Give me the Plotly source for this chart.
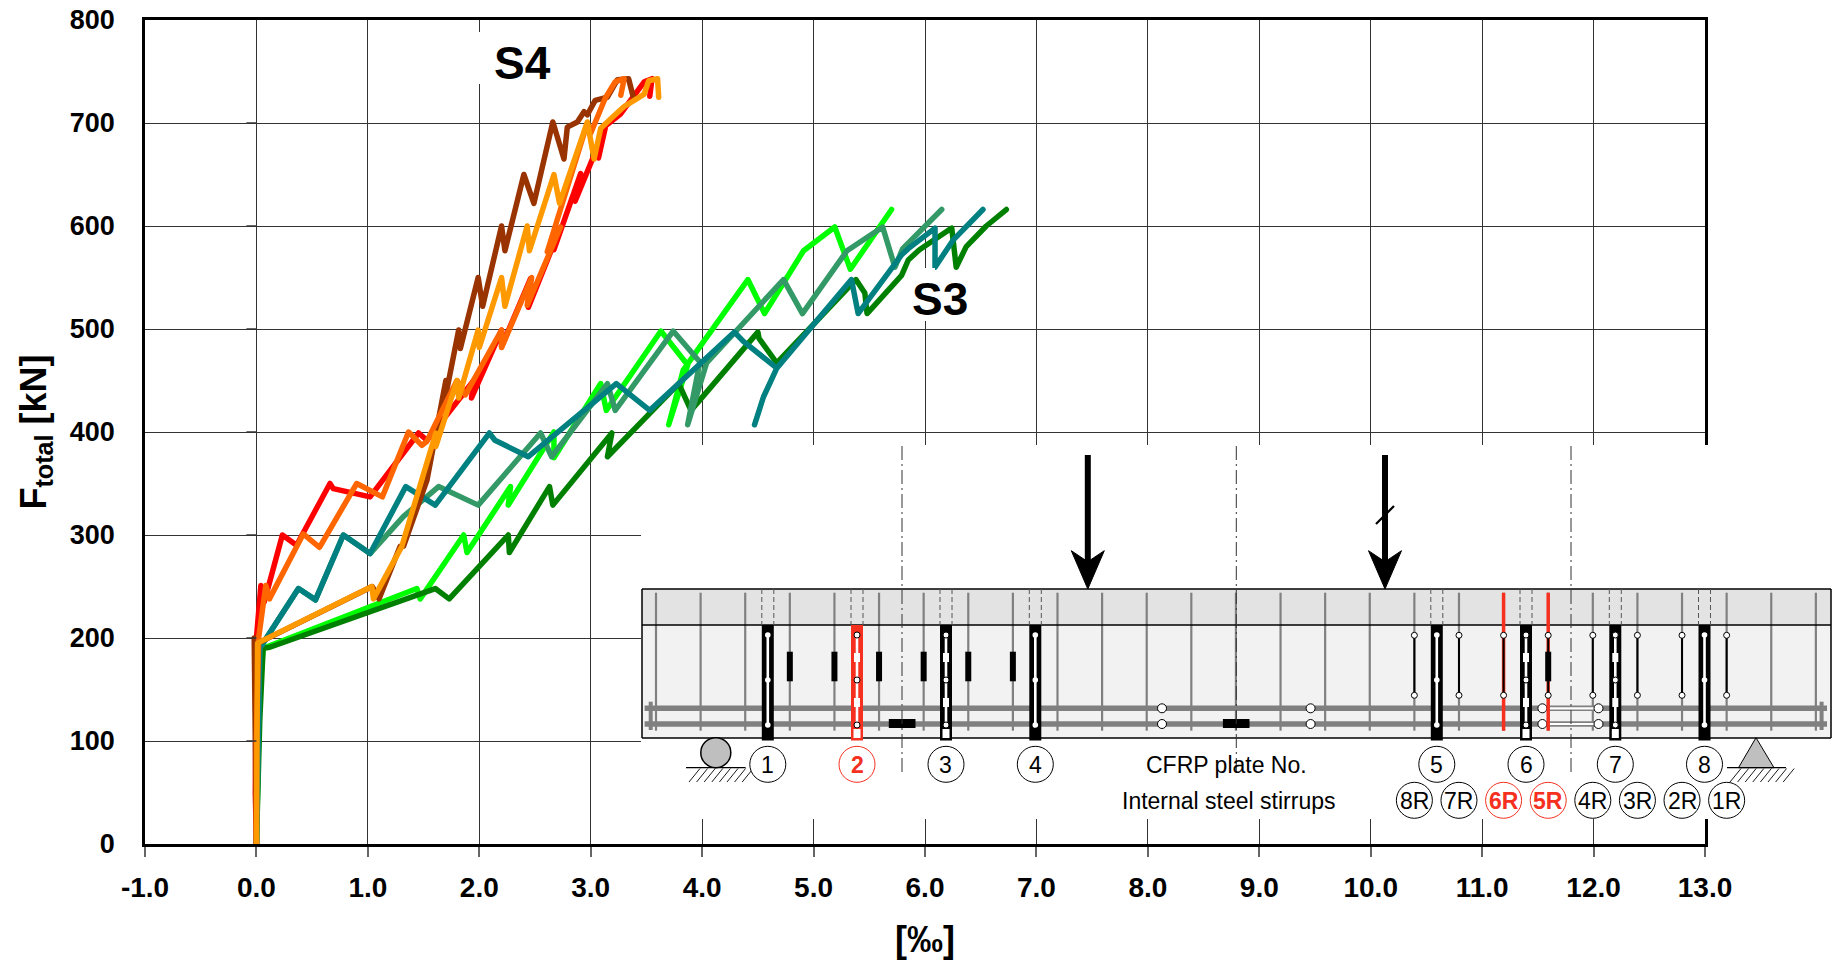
import plotly.graph_objects as go

# ---- data: strain [permille], F_total [kN] ----
red_x = [0,-0.01,0.0,0.04,0.07,0.233,0.36,0.66,0.69,1.02,1.455,1.53,1.95,1.93,2.2,2.2,2.46,2.44,2.73,2.67,2.91,2.86,3.13,3.07,3.13,3.27,3.48,3.55,3.53]
red_y = [0,50,200,251,235,300,290,350,345,337,399,392,450,433,499,483,549,521,599,577,651,624,695,666,697,709,740,743,726]

dorange_x = [0,0.0,0.02,0.084,0.117,0.42,0.566,0.90,1.13,1.365,1.485,1.53,1.80,1.875,2.2,2.2,2.47,2.43,2.73,2.61,2.97,3.0,3.13,3.22,3.30,3.27]
dorange_y = [0,100,200,251,238,301,288,350,337,400,387,391,450,436,499,482,550,523,599,575,700,690,724,740,743,727]

brown_x = [0,-0.02,-0.02,0.05,1.04,1.10,1.29,1.32,1.53,1.70,1.68,1.815,1.83,1.99,2.03,2.20,2.23,2.40,2.49,2.66,2.76,2.79,2.88,2.94,2.97,3.04,3.15,3.24,3.34,3.38]
brown_y = [0,150,200,197,250,238,289,289,353,450,425,499,481,550,522,600,576,650,622,701,665,696,701,711,708,722,725,742,743,726]

amber_x = [0,0.003,0.01,1.036,1.05,1.305,1.61,1.61,1.80,1.815,1.99,2.0,2.2,2.23,2.43,2.45,2.67,2.72,2.97,3.03,3.09,3.19,3.30,3.39,3.48,3.52,3.60,3.61]
amber_y = [0,50,195,250,238,289,399,386,450,433,499,482,550,522,600,576,650,622,701,665,695,705,716,722,728,741,743,725]

lime_x = [0,0.027,0.06,1.44,1.47,1.86,1.89,2.28,2.26,2.67,2.67,3.09,3.14,3.63,3.87,3.70,3.83,4.41,4.56,4.91,5.19,5.33,5.70]
lime_y = [0,143,190,248,238,300,283,347,329,400,375,447,421,498,465,407,460,548,515,576,599,558,616]

dgreen_x = [0,0.03,0.06,0.12,1.605,1.73,2.26,2.27,2.63,2.66,3.19,3.15,3.79,3.90,4.50,4.51,4.67,5.38,5.46,5.48,5.79,5.85,5.95,6.24,6.28,6.37,6.55,6.73]
dgreen_y = [0,120,190,191,248,238,300,283,347,329,399,376,447,421,497,491,467,548,535,515,552,567,577,598,560,580,600,616]

sea_x = [0,0.03,0.377,0.53,0.78,1.02,1.32,1.635,1.99,2.55,2.65,3.15,3.22,3.74,3.98,3.87,4.04,4.73,4.90,5.30,5.62,5.73,5.80,6.15]
sea_y = [0,190,248,237,300,282,318,347,329,399,376,447,421,498,468,407,467,548,515,576,599,560,578,616]

teal_x = [0,0.03,0.377,0.53,0.78,1.02,1.34,1.605,2.09,2.14,2.44,3.23,3.53,4.29,4.37,4.67,4.55,4.47,4.55,4.67,5.34,5.40,5.79,5.85,6.09,6.09,6.25,6.52]
teal_y = [0,190,248,237,300,282,347,329,399,392,376,447,421,497,488,462,434,407,434,462,548,515,572,578,598,560,586,616]

series = [
    ("lime", lime_x, lime_y, "#00FF00"),
    ("dark green", dgreen_x, dgreen_y, "#008000"),
    ("sea green", sea_x, sea_y, "#339966"),
    ("teal", teal_x, teal_y, "#008080"),
    ("red", red_x, red_y, "#FF0000"),
    ("brown", brown_x, brown_y, "#993300"),
    ("dark orange", dorange_x, dorange_y, "#FF6600"),
    ("amber", amber_x, amber_y, "#FF9900"),
]

x_ticks = list(range(-1, 14))
y_ticks = list(range(0, 801, 100))
plate_labels = ["1", "2", "3", "4", "5", "6", "7", "8"]
stirrup_labels = ["8R", "7R", "6R", "5R", "4R", "3R", "2R", "1R"]

# ---- page geometry ----
W, H = 1838, 961
L, R, T, B = 145, 1705, 20, 844
FONT = "Liberation Sans"
INK = "#000000"
RED = "#F5301E"
GREY = "#808080"


def fx(px):
    return (px - L) / (R - L)


def fy(py):
    return (B - py) / (B - T)


shapes = []
annotations = []


def rect(x0, y0, x1, y1, fill, line=None, lw=0):
    shapes.append(dict(type="rect", xref="paper", yref="paper", layer="above",
                       x0=fx(x0), x1=fx(x1), y0=fy(y1), y1=fy(y0), fillcolor=fill,
                       line=dict(color=line or fill, width=lw)))


def seg(x0, y0, x1, y1, color=INK, lw=1.5, dash=None):
    shapes.append(dict(type="line", xref="paper", yref="paper", layer="above",
                       x0=fx(x0), x1=fx(x1), y0=fy(y0), y1=fy(y1),
                       line=dict(color=color, width=lw, dash=dash or "solid")))


def circ(cx, cy, r, fill="#FFFFFF", line=INK, lw=1):
    shapes.append(dict(type="circle", xref="paper", yref="paper", layer="above",
                       x0=fx(cx - r), x1=fx(cx + r), y0=fy(cy + r), y1=fy(cy - r),
                       fillcolor=fill, line=dict(color=line, width=lw)))


def poly(points, fill):
    d = "M " + " L ".join(f"{fx(a)},{fy(b)}" for a, b in points) + " Z"
    shapes.append(dict(type="path", xref="paper", yref="paper", layer="above", path=d,
                       fillcolor=fill, line=dict(color=INK, width=1)))


def text(cx, cy, s, size, color=INK, bold=False):
    annotations.append(dict(xref="paper", yref="paper", x=fx(cx), y=fy(cy), text=f"<b>{s}</b>" if bold else s,
                            showarrow=False, xanchor="center", yanchor="middle",
                            font=dict(family=FONT, size=size, color=color)))


# small ticks beside the zero strain line
for v in y_ticks[1:-1]:
    shapes.append(dict(type="line", xref="x", yref="y", layer="above", x0=-0.09, x1=0, y0=v, y1=v,
                       line=dict(color="#333333", width=1.5)))

# white panel that interrupts the grid behind the beam drawing
rect(641, 445, 1838, 819, "#FFFFFF")
# white gaps behind the two labels
rect(470, 32, 490, 84, "#FFFFFF")
rect(917, 268, 935, 321, "#FFFFFF")

# ---- beam ----
BL, BR, BT, BM, BB = 642, 1831, 589, 625, 738
rect(BL, BT, BR, BM, "#E3E3E3")
rect(BL, BM, BR, BB, "#F2F2F2")

STIR0, STIR_STEP = 656.0, 44.61
stir_x = [STIR0 + i * STIR_STEP for i in range(27)]
for i, sx in enumerate(stir_x):
    seg(sx, 592.7, sx, 730.7, GREY, 2.2)

# rebars
for ry in (708.3, 724):
    seg(644.6, ry, 1827, ry, GREY, 5.5)
seg(650.7, 701.7, 650.7, 730, GREY, 4)
seg(1821.6, 701.7, 1821.6, 730, GREY, 4)

# lines around the beam
for ln in [(BL, BT, BR, BT), (BL, BM, BR, BM), (BL, BB, BR, BB), (BL, BT, BL, BB), (BR, BT, BR, BB)]:
    seg(*ln, INK, 1.5)

# horizontal gauges and joints
rect(888.8, 719, 915.5, 728, INK)
rect(1222.9, 719, 1249.5, 728, INK)
for cx in (1162, 1310.6):
    for ry in (708.3, 724):
        circ(cx, ry, 4.5)
for ry in (708.3, 724):
    seg(1542, ry, 1598, ry, "#FFFFFF", 2.2)
    circ(1542.4, ry, 4.5)
    circ(1598.5, ry, 4.5)

# gauges on the left stirrups
for i in range(3, 9):
    rect(stir_x[i] - 3, 651.7, stir_x[i] + 3, 681.3, INK)

# red stirrups
seg(stir_x[19], 592.7, stir_x[19], 730.7, RED, 3.5)
seg(stir_x[20], 592.7, stir_x[20], 730.7, RED, 3.5)

# gauges on the right stirrups
for i in range(17, 25):
    sx = stir_x[i]
    seg(sx, 635.3, sx, 695.3, INK, 2)
    if i == 20:
        rect(sx - 3, 651.7, sx + 3, 681.3, INK)
    circ(sx, 635.3, 3)
    circ(sx, 695.3, 3)

# plates
plate_x = [767.8, 857, 946, 1035.3, 1436.8, 1526, 1615.3, 1704.5]
for n, px in enumerate(plate_x):
    color = RED if n == 1 else INK
    rect(px - 6, BM, px + 6, 740.5, color)
    seg(px - 6, BT, px - 6, BM, "#555555", 1, "5px,3px")
    seg(px + 6, BT, px + 6, BM, "#555555", 1, "5px,3px")
    seg(px, 635, px, 725, "#FFFFFF", 2.6)
    if n in (1, 2, 5, 6):
        rect(px - 3, 653, px + 3, 662, "#FFFFFF")
        rect(px - 3, 698, px + 3, 707, "#FFFFFF")
        rect(px - 3.5, 729, px + 3.5, 738, "#FFFFFF")
        for cy in (635, 680, 725):
            circ(px, cy, 3)
    else:
        for cy in (635, 680, 725):
            circ(px, cy, 2.8, line="#FFFFFF", lw=0)

# symmetry lines
for dx in (902, 1236.3, 1571):
    seg(dx, 446, dx, 773, "#333333", 1, "14px,4px,2px,4px")

# load arrows
for ax in (1087.8, 1385):
    seg(ax, 455, ax, 570, INK, 6)
    poly([(ax - 16.5, 550.7), (ax, 561.7), (ax + 16.5, 550.7), (ax, 589)], INK)
seg(1376, 524, 1394, 506, INK, 2.2)

# supports
circ(715.8, 752.7, 15, "#BFBFBF", INK, 1.5)
seg(686, 767.7, 745.6, 767.7, INK, 1.2)
poly([(1756, 737.7), (1738.5, 767.7), (1774, 767.7)], "#BFBFBF")
seg(1727, 767.7, 1786, 767.7, INK, 1.2)
for start in (686, 1727):
    for k in range(8):
        hx = start + 3 + k * 7.6
        seg(hx + 11, 768.5, hx, 782, INK, 0.9)

# number circles and texts
for n, (px, lab) in enumerate(zip(plate_x, plate_labels)):
    hot = n == 1
    circ(px, 764.3, 18, "#FFFFFF", RED if hot else INK, 1)
    text(px, 765, lab, 23, RED if hot else INK, hot)
for i, lab in zip(range(17, 25), stirrup_labels):
    hot = lab in ("6R", "5R")
    circ(stir_x[i], 800.3, 18, "#FFFFFF", RED if hot else INK, 1)
    text(stir_x[i], 801, lab, 23, RED if hot else INK, hot)
text(1226, 765, "CFRP plate No.", 23)
text(1228, 801, "Internal steel stirrups", 23)

# series labels
text(522, 63, "S4", 46, INK, True)
text(940, 299, "S3", 46, INK, True)

fig = go.Figure()
for name, xs, ys, color in series:
    fig.add_trace(go.Scatter(x=xs, y=ys, mode="lines", name=name, cliponaxis=False,
                             line=dict(color=color, width=5.5)))

fig.update_layout(
    width=W, height=H, autosize=False, showlegend=False,
    margin=dict(l=L, r=W - R, t=T, b=H - B, autoexpand=False),
    paper_bgcolor="#FFFFFF", plot_bgcolor="#FFFFFF",
    font=dict(family=FONT, color=INK),
    shapes=shapes, annotations=annotations,
    xaxis=dict(range=[-1, 13], tickvals=x_ticks, ticktext=[f"{v:.1f}" for v in x_ticks],
               showgrid=True, gridcolor="#333333", gridwidth=1, zeroline=False,
               showline=True, linecolor=INK, linewidth=2.5, mirror=True,
               ticks="outside", ticklen=10, tickwidth=1.5, tickcolor="#666666",
               ticklabelstandoff=7,
               tickfont=dict(family=FONT, size=28, color=INK, weight="bold"),
               title=dict(text="<b>[‰]</b>", standoff=25, font=dict(family=FONT, size=36, color=INK))),
    yaxis=dict(range=[0, 800], tickvals=y_ticks, ticktext=[str(v) for v in y_ticks],
               showgrid=True, gridcolor="#333333", gridwidth=1, zeroline=False,
               showline=True, linecolor=INK, linewidth=2.5, mirror=True,
               ticks="", ticklabelstandoff=22,
               tickfont=dict(family=FONT, size=27, color=INK, weight="bold"),
               title=dict(text="<b>F<sub>total</sub> [kN]</b>", standoff=13, font=dict(family=FONT, size=36, color=INK))),
)

round_lines = ("document.body.style.margin='0';"
               "document.querySelectorAll('.js-line').forEach(function(p){"
               "p.style.strokeLinejoin='round';p.style.strokeLinecap='round';});")
fig.write_html("out.html", post_script=round_lines, config=dict(displayModeBar=False))
